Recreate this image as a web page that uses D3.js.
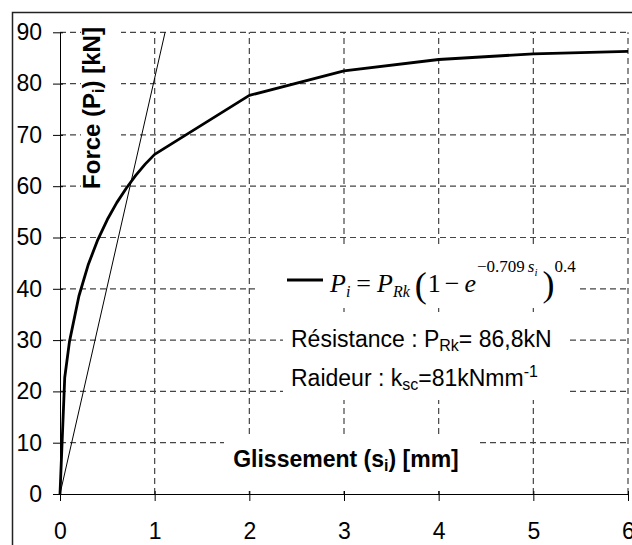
<!DOCTYPE html>
<html>
<head>
<meta charset="utf-8">
<script src="https://cdn.jsdelivr.net/npm/d3@7"></script>
<style>
  body { margin: 0; background: #fff; }
</style>
</head>
<body>
<div id="chart"></div>
<script>
// glissement (mm) et force (kN)
const slip = [0, 0.05, 0.1, 0.2, 0.3, 0.4, 0.5, 0.6, 0.7, 0.8, 0.9, 1, 2, 3, 4, 5, 6];
const force = [0, 22.7, 29.7, 38.6, 44.8, 49.6, 53.5, 56.8, 59.6, 62.1, 64.3, 66.2, 77.7, 82.5, 84.7, 85.8, 86.3];

// droite de raideur k_sc
const stiffSlip = [0, 1.11];
const stiffForce = [0, 90];

const xTicks = [0, 1, 2, 3, 4, 5, 6];
const yTicks = [0, 10, 20, 30, 40, 50, 60, 70, 80, 90];

(function () {
  const width = 632, height = 545;
  const sans = "'Liberation Sans', Arial, sans-serif";
  const serif = "'Liberation Serif', 'Times New Roman', serif";

  const svg = d3.select("#chart")
    .append("svg")
    .attr("width", width)
    .attr("height", height)
    .attr("font-family", sans);

  const x = d3.scaleLinear().domain([0, 6]).range([60, 628]);
  const y = d3.scaleLinear().domain([0, 90]).range([494, 32.3]);

  // cadre
  svg.append("rect")
    .attr("x", 12.5).attr("y", 12.5)
    .attr("width", 700).attr("height", 600)
    .attr("fill", "#fff")
    .attr("stroke", "#222")
    .attr("stroke-width", 1.5);

  // grille
  const grid = svg.append("g")
    .attr("stroke", "#444")
    .attr("stroke-width", 1.2)
    .attr("stroke-dasharray", "6,4");

  grid.selectAll("line.h")
    .data(yTicks.filter(d => d > 0))
    .join("line")
      .attr("class", "h")
      .attr("x1", x(0)).attr("x2", x(6))
      .attr("y1", d => y(d)).attr("y2", d => y(d));

  grid.selectAll("line.v")
    .data(xTicks.filter(d => d > 0))
    .join("line")
      .attr("class", "v")
      .attr("x1", d => x(d)).attr("x2", d => x(d))
      .attr("y1", y(0)).attr("y2", y(90));

  // fonds blancs des zones de texte
  const boxes = [
    [81, 22, 40, 173],
    [255, 248, 325, 60],
    [283, 312, 287, 88],
    [224, 434, 252, 57]
  ];
  svg.selectAll("rect.box")
    .data(boxes)
    .join("rect")
      .attr("class", "box")
      .attr("x", d => d[0]).attr("y", d => d[1])
      .attr("width", d => d[2]).attr("height", d => d[3])
      .attr("fill", "#fff");

  // axes
  const xAxis = svg.append("g")
    .attr("transform", `translate(0,${y(0)})`)
    .call(d3.axisBottom(x).tickValues(xTicks).tickFormat(d3.format("d"))
      .tickSize(7).tickSizeOuter(0).tickPadding(22));
  xAxis.selectAll(".tick line").attr("y1", -3);

  const yAxis = svg.append("g")
    .attr("transform", `translate(${x(0)},0)`)
    .call(d3.axisLeft(y).tickValues(yTicks).tickFormat(d3.format("d"))
      .tickSize(7).tickSizeOuter(0).tickPadding(11));
  yAxis.selectAll(".tick line").attr("x1", 3);

  svg.selectAll(".domain, .tick line").attr("stroke", "#000").attr("stroke-width", 1);
  svg.selectAll("g.tick text, .tick text");
  xAxis.attr("font-family", sans).attr("font-size", 23);
  yAxis.attr("font-family", sans).attr("font-size", 23);
  svg.selectAll(".tick text").attr("fill", "#000");

  // droite de raideur
  const stiff = stiffSlip.map((s, i) => [s, stiffForce[i]]);
  svg.append("path")
    .datum(stiff)
    .attr("fill", "none")
    .attr("stroke", "#000")
    .attr("stroke-width", 1)
    .attr("d", d3.line().x(d => x(d[0])).y(d => y(d[1])));

  // courbe force-glissement
  const pts = slip.map((s, i) => [s, force[i]]);
  svg.append("path")
    .datum(pts)
    .attr("fill", "none")
    .attr("stroke", "#000")
    .attr("stroke-width", 2.8)
    .attr("stroke-linejoin", "round")
    .attr("d", d3.line().x(d => x(d[0])).y(d => y(d[1])));

  // titres des axes
  const yTitle = svg.append("text")
    .attr("transform", `translate(100,108) rotate(-90)`)
    .attr("text-anchor", "middle")
    .attr("font-weight", "bold")
    .attr("font-size", 24);
  yTitle.append("tspan").text("Force (P");
  yTitle.append("tspan").attr("font-size", 16).attr("dy", 4).text("i");
  yTitle.append("tspan").attr("dy", -4).text(") [kN]");

  const xTitle = svg.append("text")
    .attr("x", 346).attr("y", 467)
    .attr("text-anchor", "middle")
    .attr("font-weight", "bold")
    .attr("font-size", 23);
  xTitle.append("tspan").text("Glissement (s");
  xTitle.append("tspan").attr("font-size", 16).attr("dy", 4).text("i");
  xTitle.append("tspan").attr("dy", -4).text(") [mm]");

  // légende + formule
  svg.append("line")
    .attr("x1", 287).attr("x2", 323)
    .attr("y1", 280).attr("y2", 280)
    .attr("stroke", "#000")
    .attr("stroke-width", 2.8);

  const f = svg.append("text")
    .attr("x", 330).attr("y", 292)
    .attr("font-family", serif)
    .attr("font-size", 26);
  f.append("tspan").attr("font-style", "italic").text("P");
  f.append("tspan").attr("font-style", "italic").attr("font-size", 16).attr("dy", 5).text("i");
  f.append("tspan").attr("dy", -5).attr("dx", 6).text("=");
  f.append("tspan").attr("font-style", "italic").attr("dx", 6).text("P");
  f.append("tspan").attr("font-style", "italic").attr("font-size", 16).attr("dy", 5).text("Rk");
  f.append("tspan").attr("dy", 0).attr("dx", 5).attr("font-size", 36).text("(");
  f.append("tspan").attr("dy", -5).attr("dx", 1).text("1");
  f.append("tspan").attr("dx", 4).text("\u2212");
  f.append("tspan").attr("font-style", "italic").attr("dx", 5).text("e");
  f.append("tspan").attr("font-size", 17).attr("dy", -20).attr("dx", 1).text("\u22120.709");
  f.append("tspan").attr("font-size", 17).attr("font-style", "italic").attr("dx", 3).text("s");
  f.append("tspan").attr("font-size", 11).attr("font-style", "italic").attr("dy", 4).text("i");
  f.append("tspan").attr("font-size", 36).attr("dx", 5).attr("dy", 20).text(")");
  f.append("tspan").attr("font-size", 17).attr("dy", -24).text("0.4");

  const r1 = svg.append("text")
    .attr("x", 291).attr("y", 347)
    .attr("font-size", 23);
  r1.append("tspan").text("Résistance : P");
  r1.append("tspan").attr("font-size", 16).attr("dy", 4).text("Rk");
  r1.append("tspan").attr("dy", -4).text("= 86,8kN");

  const r2 = svg.append("text")
    .attr("x", 291).attr("y", 386)
    .attr("font-size", 23);
  r2.append("tspan").text("Raideur : k");
  r2.append("tspan").attr("font-size", 16).attr("dy", 4).text("sc");
  r2.append("tspan").attr("dy", -4).text("=81kNmm");
  r2.append("tspan").attr("font-size", 16).attr("dy", -9).text("-1");
})();
</script>
</body>
</html>
